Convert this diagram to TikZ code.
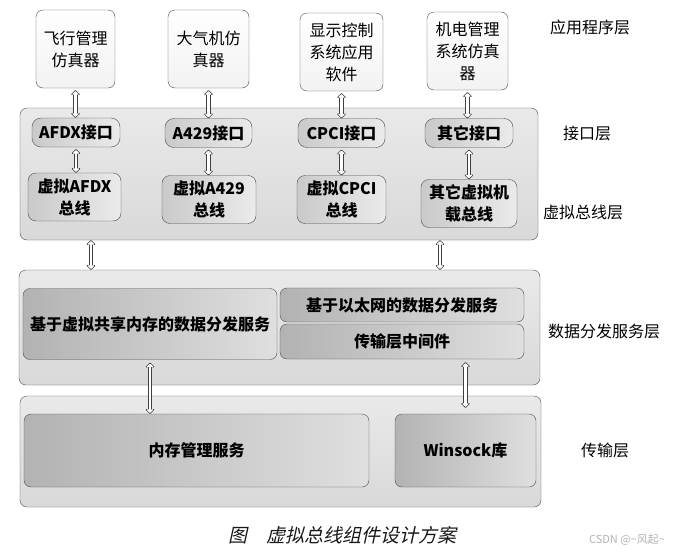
\documentclass[tikz,border=0pt]{standalone}
\usepackage{fontspec}
\setmainfont{Noto Sans CJK SC}
\newfontfamily\capfont[FakeSlant=0.22]{Noto Sans CJK SC}
\usetikzlibrary{positioning,arrows.meta,shapes,fit,backgrounds}

\begin{document}
\begin{tikzpicture}[x=1pt, y=-1pt, >=Stealth, every node/.style={font=\fontsize{16}{22}\selectfont}]
  % Styles
  \tikzset{
    app/.style={draw=gray!60!black, rounded corners=7pt, top color=white, bottom color=gray!10, align=center, inner sep=1pt},
    layer/.style={draw=gray!60!black, rounded corners=7pt, top color=gray!17, bottom color=gray!30},
    port/.style={draw=gray!60!black, rounded corners=9pt, left color=gray!42, right color=gray!16, align=center, inner sep=0pt, font=\fontsize{16}{22}\selectfont\bfseries},
    svc/.style={draw=gray!60!black, rounded corners=7pt, left color=gray!60, right color=gray!25, align=center, inner sep=0pt, font=\fontsize{16}{22}\selectfont\bfseries},
    tag/.style={font=\fontsize{16}{22}\selectfont},
    link/.style={draw=white, line width=2.6pt, shorten <=1pt, shorten >=1pt,
      {Triangle[round, length=3.6pt, width=7.4pt]}-{Triangle[round, length=3.6pt, width=7.4pt]},
      preaction={draw=gray!50!black, line width=4.4pt, shorten <=0pt, shorten >=0pt,
      {Triangle[round, length=5pt, width=10pt]}-{Triangle[round, length=5pt, width=10pt]}}}
  }
  \useasboundingbox (0,0) rectangle (677,554);

  % Layer containers
  \node[layer, minimum width=518, minimum height=132] (ifl) at (279,174) {};
  \node[layer, minimum width=521, minimum height=115] (dsl) at (279.5,327.5) {};
  \node[layer, minimum width=521, minimum height=111] (trl) at (280.5,451.5) {};

  % Application layer
  \node[app, minimum width=79, minimum height=78] (fms) at (75.5,49) {飞行管理\\仿真器};
  \node[app, minimum width=81, minimum height=78] (adc) at (208.5,49) {大气机仿\\真器};
  \node[app, minimum width=83, minimum height=78] (dcs) at (341.5,52) {显示控制\\系统应用\\软件};
  \node[app, minimum width=81, minimum height=78] (ems) at (467.5,51) {机电管理\\系统仿真\\器};

  % Interfaces
  \node[port, minimum width=88, minimum height=29] (afdx) at (76,132.5) {AFDX接口};
  \node[port, minimum width=87, minimum height=29] (a429) at (208.5,133) {A429接口};
  \node[port, minimum width=87, minimum height=29] (cpci) at (341.5,133) {CPCI接口};
  \node[port, minimum width=88, minimum height=29] (other) at (469,133) {其它接口};

  % Virtual buses
  \node[port, rounded corners=8pt, minimum width=93, minimum height=48] (vafdx) at (74.5,197) {虚拟AFDX\\总线};
  \node[port, rounded corners=8pt, minimum width=94, minimum height=48] (va429) at (209,199.5) {虚拟A429\\总线};
  \node[port, rounded corners=8pt, minimum width=89, minimum height=48] (vcpci) at (341.5,199.5) {虚拟CPCI\\总线};
  \node[port, rounded corners=8pt, minimum width=96, minimum height=48] (vother) at (469,203.5) {其它虚拟机\\载总线};

  % Data distribution services
  \node[svc, minimum width=254, minimum height=71] (shm) at (150,324) {基于虚拟共享内存的数据分发服务};
  \node[svc, minimum width=244, minimum height=34] (eth) at (402,305) {基于以太网的数据分发服务};
  \node[svc, minimum width=244, minimum height=35] (mid) at (402,341.5) {传输层中间件};

  % Transport
  \node[svc, minimum width=345, minimum height=73] (mem) at (196.5,450.5) {内存管理服务};
  \node[svc, minimum width=141, minimum height=73] (win) at (465.5,450.5) {Winsock库};

  % Layer names
  \node[tag] at (590,27) {应用程序层};
  \node[tag] at (587,133) {接口层};
  \node[tag] at (583,212) {虚拟总线层};
  \node[tag] at (604,331) {数据分发服务层};
  \node[tag] at (605,450) {传输层};

  % Arrows: application <-> interface <-> bus
  \foreach \a/\b/\c in {fms/afdx/vafdx, adc/a429/va429, dcs/cpci/vcpci, ems/other/vother} {
    \draw[link] ([yshift=-2]\a.south) -- (\a.south |- \b.north);
    \draw[link] ([yshift=-2]\b.south) -- (\b.south |- \c.north);
  }

  % Arrows between layers
  \draw[link] ([xshift=-188]ifl.south) -- ([xshift=-188]ifl.south |- dsl.north);
  \draw[link] ([xshift=161]ifl.south) -- ([xshift=161]ifl.south |- dsl.north);
  \draw[link] ([yshift=-3]shm.south) -- (shm.south |- mem.north);
  \draw[link] ([yshift=6]win.north) -- ([yshift=-3]win.north |- mid.south);

  % Caption
  \node[font=\fontsize{19}{22}\selectfont\capfont, text=gray!20!black] (cap) at (342,535) {图　虚拟总线组件设计方案};
  \node[font=\fontsize{11}{13}\selectfont, text=gray!60] (mark) at (627,540) {CSDN @\textasciitilde 风起\textasciitilde};
\end{tikzpicture}
\end{document}
